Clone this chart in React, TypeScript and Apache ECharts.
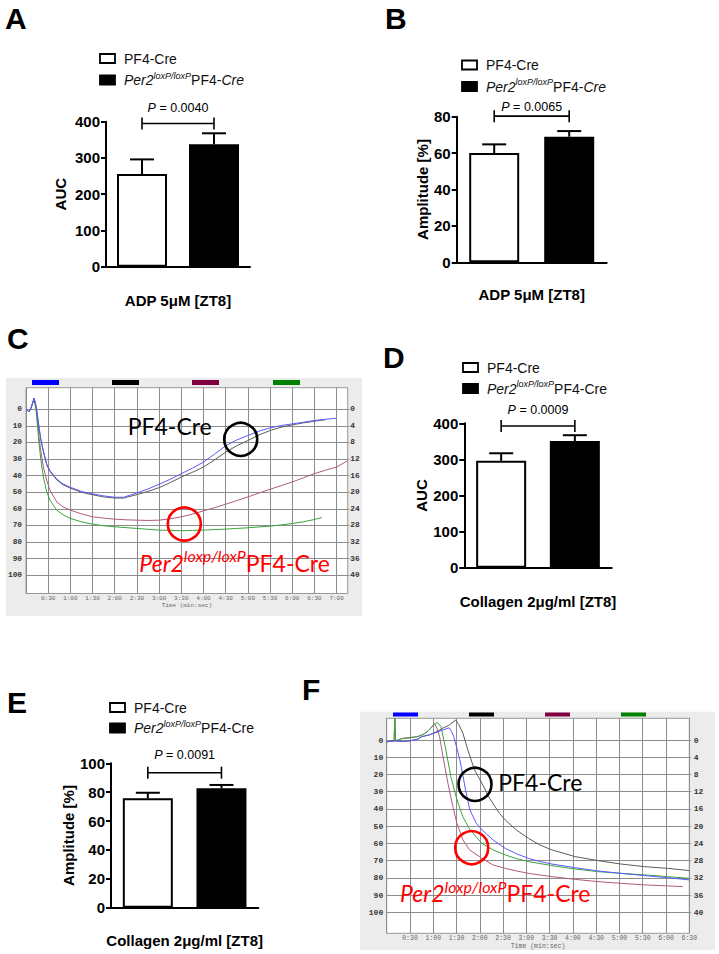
import React, { useEffect, useRef } from "react";
import * as echarts from "echarts";

// ---------------- DATA ----------------
const barCategories = ["PF4-Cre", "Per2 loxP/loxP PF4-Cre"];

const adpAucMean = [256, 338];
const adpAucErrTop = [296, 368];
const adpAmpMean = [60, 69];
const adpAmpErrTop = [64.8, 72.1];
const colAucMean = [296, 351];
const colAucErrTop = [317, 367];
const colAmpMean = [75.8, 82.7];
const colAmpErrTop = [79.6, 85];

const pValues = ["0.0040", "0.0065", "0.0009", "0.0091"];
const bracketLevels = [395, 80.3, 392.5, 93.5];

const leftTicks = [0, 10, 20, 30, 40, 50, 60, 70, 80, 90, 100];
const rightTicks = [0, 4, 8, 12, 16, 20, 24, 28, 32, 36, 40];
const cTimeTicks = [0, 30, 60, 90, 120, 150, 180, 210, 240, 270, 300, 330, 360, 390, 420];
const cTimeLabels = [30, 60, 90, 120, 150, 180, 210, 240, 270, 300, 330, 360, 390, 420];
const fTimeTicks = [0, 30, 60, 90, 120, 150, 180, 210, 240, 270, 300, 330, 360, 390];
const fTimeLabels = [30, 60, 90, 120, 150, 180, 210, 240, 270, 300, 330, 360, 390];

// Panel C traces (ADP): [time s, transmission %]
const adpBlue = [[0,0],[4,1.5],[7,-1],[11,-6.6],[14,-1],[17.6,11],[20,18],[23.5,25],[28,33],[32.5,37],[41.5,42],[50,45],[60,47],[75,49.5],[90,51],[105,52.2],[120,53],[132,53],[150,50.4],[165,48],[180,45.2],[195,42.2],[210,38.8],[225,35.5],[240,31.8],[255,27],[270,22],[285,18.5],[300,15.8],[315,13.2],[330,11.2],[345,9.8],[360,8.8],[375,7.8],[390,6.8],[405,6],[420,5.4]];
const adpBlack = [[0,0],[4,1.5],[7,-1],[11,-6.6],[14,-1],[17.6,11],[20,18],[23.5,25.5],[28,33.5],[32.5,37.5],[41.5,42.5],[50,45.5],[60,47.5],[75,50],[90,51.5],[105,52.8],[120,53.5],[132,53.5],[150,51.4],[165,49.5],[180,47.2],[195,44.2],[210,40.8],[225,38],[240,34.8],[255,30.5],[270,25.8],[285,22],[300,18.8],[315,15.5],[330,12.8],[345,10.8],[360,9.4],[375,8.2],[390,7.2],[405,6.3]];
const adpMaroon = [[0,0],[4,1.5],[7,-1],[11,-6.6],[14,0],[17.6,16.8],[20,25],[23.5,34.8],[28,42.8],[32.5,48.8],[41.5,55.8],[50,58.8],[60,60.8],[75,63],[90,64.8],[105,65.6],[120,66.2],[135,66.6],[150,66.8],[165,67],[180,66.8],[195,66],[210,64.8],[225,63.2],[240,61.2],[255,59.3],[270,57.2],[285,55],[300,52.8],[315,50.5],[330,48.2],[345,46],[360,43.8],[375,41.3],[390,38.8],[405,36.7],[420,34.8],[435,31]];
const adpGreen = [[0,0],[4,1.5],[7,-1],[11,-6.6],[14,2],[17.6,20.8],[20,30],[23.5,40.8],[28,49.8],[32.5,54.8],[41.5,60.8],[50,63.5],[60,65.8],[75,67.8],[90,69.2],[105,70.2],[120,70.8],[135,71.3],[150,71.8],[165,72.3],[180,72.8],[195,73],[210,73.2],[225,73],[240,72.8],[255,72.5],[270,72.2],[285,71.8],[300,71.4],[315,70.9],[330,70.4],[345,69.7],[360,68.8],[375,67.8],[390,66.4],[400,65.2]];

// Panel F traces (collagen)
const colBlue = [[0,1],[10,0.5],[20,0.8],[30,0.5],[40,-0.5],[45,-1.9],[55,-3],[65,-4.5],[72,-5.8],[80.6,-7.1],[83.5,-5],[86.5,-1.9],[90,4],[94.3,11.6],[98,20],[101.6,29],[107.2,40.6],[115.7,48.4],[122.9,52.2],[137,58],[152.8,62.9],[167,66],[182.8,68.7],[197,70.5],[212.9,72],[242.9,74.1],[272,76],[302,77.4],[332,78.7],[362,79.9],[390,81.2]];
const colBlack = [[0,1],[10,0.5],[20,0.8],[30,0.5],[40,-0.5],[45,-1.9],[55,-3],[65,-5],[72,-6.8],[80,-8.5],[88.8,-11.6],[93,-9],[98.2,-3.9],[104.6,5.8],[113.2,17.4],[122.7,25.1],[132.6,33.8],[145.4,42.6],[152.8,46.4],[167,52.2],[182.8,57.1],[197,60.8],[212.9,63.8],[242.9,67.7],[272,70],[302,72],[332,73.5],[362,74.5],[390,75.8]];
const colMaroon = [[0,1],[9.5,0.5],[10.5,-12.6],[11.5,0.5],[20,-1],[30,-1.5],[40,-2],[47,-3.2],[53,-5],[57,-7],[61.8,-9.5],[65,-6.5],[68.2,-1.9],[73.3,11.6],[78.9,25.1],[85.3,38.7],[90.5,48.4],[98.2,58],[106.8,63.8],[122.7,68.7],[136.9,72.5],[152.8,74.5],[167,76],[182.8,77.4],[212.9,79.3],[242.9,80.9],[272.1,82.2],[302.1,83.2],[332.2,84.1],[362.2,84.7],[381.5,85.1]];
const colGreen = [[0,1],[9.5,0.5],[10.5,-12.6],[11.5,0.5],[20,-0.8],[30,-1.2],[40,-2],[48,-3.5],[55,-6],[60,-8.5],[65.2,-10.3],[70,-7.7],[76.3,5.8],[82.7,21.3],[90,33.8],[98,44.5],[107.5,52.2],[122.7,60],[137,63.8],[152.8,66.7],[167,68.8],[182.8,70.6],[212.9,72.9],[242.9,74.9],[272,76.4],[302,77.4],[332,78.3],[362,79.3],[390,80.3]];

// ---------------- STYLE ----------------
const SANS = "'Liberation Sans', Arial, Helvetica, sans-serif";
const MONO = "'Liberation Mono', 'DejaVu Sans Mono', monospace";
const CAL = "Lato, 'Noto Sans', sans-serif";

function fmtTime(v: number) {
  const m = Math.floor(v / 60);
  const s = Math.round(v % 60);
  return m + ":" + (s < 10 ? "0" + s : "" + s);
}

function barXAxis(gi: number, name: string, gap: number) {
  return {
    type: "category", gridIndex: gi, data: barCategories,
    axisLine: { show: true, lineStyle: { color: "#000", width: 2 } },
    axisTick: { show: false }, axisLabel: { show: false }, splitLine: { show: false },
    name, nameLocation: "middle", nameGap: gap,
    nameTextStyle: { fontFamily: SANS, fontWeight: "bold", fontSize: 15, color: "#000" },
  };
}
function barYAxis(gi: number, max: number, interval: number, name: string, gap: number) {
  return {
    type: "value", gridIndex: gi, min: 0, max, interval,
    axisLine: { show: true, lineStyle: { color: "#000", width: 2 } },
    axisTick: { show: true, length: 5, lineStyle: { color: "#000", width: 2 } },
    axisLabel: { fontFamily: SANS, fontWeight: "bold", fontSize: 15, color: "#000", margin: 6 },
    splitLine: { show: false },
    name, nameLocation: "middle", nameGap: gap, nameRotate: 90,
    nameTextStyle: { fontFamily: SANS, fontWeight: "bold", fontSize: 15, color: "#000" },
  };
}
function barSeries(xi: number, yi: number, means: number[], tops: number[], bracket: number, p: string, pOffset: number) {
  return [
    {
      type: "bar", xAxisIndex: xi, yAxisIndex: yi, barWidth: 50, silent: true, z: 2,
      data: means.map((v, i) => ({
        value: v,
        itemStyle: i === 0
          ? { color: "#fff", borderColor: "#000", borderWidth: 2 }
          : { color: "#000", borderColor: "#000", borderWidth: 2 },
      })),
    },
    {
      type: "custom", xAxisIndex: xi, yAxisIndex: yi, clip: false, silent: true, z: 3,
      data: means.map((m, i) => [i, m, tops[i]]),
      renderItem: (params: any, api: any) => {
        const x = api.value(0);
        const p0 = api.coord([x, api.value(1)]);
        const p1 = api.coord([x, api.value(2)]);
        const st = { stroke: "#000", lineWidth: 2 };
        return {
          type: "group",
          children: [
            { type: "line", shape: { x1: p0[0], y1: p0[1], x2: p1[0], y2: p1[1] }, style: st },
            { type: "line", shape: { x1: p1[0] - 12, y1: p1[1], x2: p1[0] + 12, y2: p1[1] }, style: st },
          ],
        };
      },
    },
    {
      type: "custom", xAxisIndex: xi, yAxisIndex: yi, clip: false, silent: true, z: 3,
      data: [[0, 1, bracket]],
      renderItem: (params: any, api: any) => {
        const lv = api.value(2);
        const a = api.coord([api.value(0), lv]);
        const b = api.coord([api.value(1), lv]);
        const st = { stroke: "#000", lineWidth: 1.6 };
        return {
          type: "group",
          children: [
            { type: "line", shape: { x1: a[0], y1: a[1], x2: b[0], y2: b[1] }, style: st },
            { type: "line", shape: { x1: a[0], y1: a[1] - 6, x2: a[0], y2: a[1] + 6 }, style: st },
            { type: "line", shape: { x1: b[0], y1: b[1] - 6, x2: b[0], y2: b[1] + 6 }, style: st },
            {
              type: "text", x: (a[0] + b[0]) / 2, y: a[1] - pOffset,
              style: {
                text: "{i|P}{n| = " + p + "}",
                align: "center", verticalAlign: "middle",
                textAlign: "center", textVerticalAlign: "middle",
                fill: "#000",
                rich: {
                  i: { fontFamily: SANS, fontSize: 12.5, fontStyle: "italic", fill: "#000" },
                  n: { fontFamily: SANS, fontSize: 12.5, fill: "#000" },
                },
              },
            },
          ],
        };
      },
    },
  ];
}

function traceX(gi: number, max: number, ticks: number[], labels: number[], fs: number, gap: number) {
  return {
    type: "value", gridIndex: gi, min: 0, max,
    axisLine: { show: false },
    axisTick: { show: false, customValues: ticks },
    axisLabel: { customValues: labels, formatter: fmtTime, fontFamily: MONO, fontSize: fs, color: "#666", margin: 2 },
    splitLine: { show: true, lineStyle: { color: "#8c8c8c", width: 1 } },
    name: "Time (min:sec)", nameLocation: "middle", nameGap: gap,
    nameTextStyle: { fontFamily: MONO, fontSize: fs, color: "#666" },
  };
}
function traceYLeft(gi: number, min: number, max: number, fs: number, margin: number) {
  return {
    type: "value", gridIndex: gi, inverse: true, min, max, position: "left",
    axisLine: { show: false },
    axisTick: { show: false, customValues: leftTicks },
    axisLabel: { customValues: leftTicks, fontFamily: MONO, fontWeight: "bold", fontSize: fs, color: "#333", margin },
    splitLine: { show: true, lineStyle: { color: "#8c8c8c", width: 1 } },
  };
}
function traceYRight(gi: number, min: number, max: number, fs: number, margin: number) {
  return {
    type: "value", gridIndex: gi, inverse: true, min: min * 0.4, max: max * 0.4, position: "right",
    axisLine: { show: false },
    axisTick: { show: true, length: 2, customValues: rightTicks, lineStyle: { color: "#999" } },
    axisLabel: { customValues: rightTicks, fontFamily: MONO, fontWeight: "bold", fontSize: fs, color: "#333", margin },
    splitLine: { show: false },
  };
}
function trace(xi: number, yi: number, data: number[][], color: string) {
  return {
    type: "line", xAxisIndex: xi, yAxisIndex: yi, data, showSymbol: false, symbol: "none",
    silent: true, z: 3, lineStyle: { color, width: 1 },
  };
}

const TR_BLUE = "#5a5aff";
const TR_BLACK = "#5c5c5c";
const TR_MAROON = "#b05a80";
const TR_GREEN = "#3aa53a";

function legend(x: number, y1: number, y2: number, italicCre: boolean) {
  const txt = italicCre ? "{it|Per2}{sup|loxP/loxP}{n|PF4-}{it|Cre}" : "{it|Per2}{sup|loxP/loxP}{n|PF4-Cre}";
  const rich = {
    it: { fontFamily: SANS, fontSize: 14, fontStyle: "italic", lineHeight: 18, fill: "#111" },
    n: { fontFamily: SANS, fontSize: 14, lineHeight: 18, fill: "#111" },
    sup: { fontFamily: SANS, fontSize: 9, fontStyle: "italic", lineHeight: 10, verticalAlign: "top", fill: "#111" },
  };
  return [
    { type: "rect", shape: { x, y: y1 - 4.5, width: 15, height: 9 }, style: { fill: "#fff", stroke: "#000", lineWidth: 1.8 }, z: 50 },
    { type: "rect", shape: { x, y: y2 - 4.5, width: 15, height: 9 }, style: { fill: "#000", stroke: "#000", lineWidth: 1.8 }, z: 50 },
    { type: "text", x: x + 24, y: y1, z: 50, style: { text: "PF4-Cre", fontFamily: SANS, fontSize: 14, fill: "#111", align: "left", verticalAlign: "middle", textAlign: "left", textVerticalAlign: "middle" } },
    { type: "text", x: x + 24, y: y2, z: 50, style: { text: txt, rich, fill: "#111", align: "left", verticalAlign: "middle", textAlign: "left", textVerticalAlign: "middle" } },
  ];
}

function letter(t: string, x: number, y: number) {
  return { type: "text", x, y, z: 50, style: { text: t, fontFamily: SANS, fontWeight: "bold", fontSize: 30, fill: "#000", align: "left", verticalAlign: "middle", textAlign: "left", textVerticalAlign: "middle" } };
}

function traceDecor(bg: number[], barY: number, barH: number, barXs: number[], barW: number,
  blackC: number[], redC: number[], blackT: number[], redT: number[]) {
  const cols = ["#0000ff", "#000000", "#800040", "#008000"];
  const els: any[] = [
    { type: "rect", shape: { x: bg[0], y: bg[1], width: bg[2], height: bg[3] }, style: { fill: "#ececec" }, z: -10 },
  ];
  barXs.forEach((bx, i) => els.push({ type: "rect", shape: { x: bx, y: barY, width: barW, height: barH }, style: { fill: cols[i] }, z: 50 }));
  els.push({ type: "circle", shape: { cx: blackC[0], cy: blackC[1], r: 16.5 }, style: { fill: "none", stroke: "#000", lineWidth: 2.6 }, z: 60 });
  els.push({ type: "circle", shape: { cx: redC[0], cy: redC[1], r: 16.5 }, style: { fill: "none", stroke: "#ff0000", lineWidth: 2.6 }, z: 60 });
  els.push({ type: "text", x: blackT[0], y: blackT[1], z: 60, style: { text: "PF4-Cre", fontFamily: CAL, fontSize: 23, fill: "#000", align: "left", verticalAlign: "middle", textAlign: "left", textVerticalAlign: "middle" } });
  els.push({
    type: "text", x: redT[0], y: redT[1], z: 60,
    style: {
      text: "{it|Per2}{sup|loxp/loxP}{n|PF4-Cre}", fill: "#ff0000",
      align: "left", verticalAlign: "middle", textAlign: "left", textVerticalAlign: "middle",
      rich: {
        it: { fontFamily: CAL, fontSize: 23, fontStyle: "italic", lineHeight: 30, fill: "#ff0000" },
        n: { fontFamily: CAL, fontSize: 23, lineHeight: 30, fill: "#ff0000" },
        sup: { fontFamily: CAL, fontSize: 16, fontStyle: "italic", lineHeight: 16, verticalAlign: "top", fill: "#ff0000" },
      },
    },
  });
  return els;
}

function buildOption() {
  const traceGrid = { show: true, backgroundColor: "#fff", borderColor: "#999", borderWidth: 1 };
  const cMin = -13, cMax = 111, fMin = -12.6, fMax = 112.2;
  return {
    animation: false,
    backgroundColor: "#fff",
    grid: [
      { left: 106, top: 121.7, width: 144, height: 145 },
      { left: 456.7, top: 116.7, width: 150, height: 145.6 },
      { left: 26, top: 387.7, width: 321.7, height: 205.8, ...traceGrid },
      { left: 464.3, top: 423.3, width: 147.4, height: 144.4 },
      { left: 111, top: 763.3, width: 147.3, height: 144.4 },
      { left: 386.7, top: 718.3, width: 302.6, height: 215, ...traceGrid },
    ],
    xAxis: [
      barXAxis(0, "ADP 5\u03bcM [ZT8]", 26),
      barXAxis(1, "ADP 5\u03bcM [ZT8]", 25),
      traceX(2, 435, cTimeTicks, cTimeLabels, 6, 8.5),
      barXAxis(3, "Collagen 2\u03bcg/ml [ZT8]", 26.5),
      barXAxis(4, "Collagen 2\u03bcg/ml [ZT8]", 25),
      traceX(5, 390, fTimeTicks, fTimeLabels, 6.5, 8),
    ],
    yAxis: [
      barYAxis(0, 400, 100, "AUC", 38),
      barYAxis(1, 80, 20, "Amplitude [%]", 24),
      traceYLeft(2, cMin, cMax, 7.8, 4),
      traceYRight(2, cMin, cMax, 7.8, 2.5),
      barYAxis(3, 400, 100, "AUC", 35.5),
      barYAxis(4, 100, 20, "Amplitude [%]", 33.5),
      traceYLeft(5, fMin, fMax, 8, 3.5),
      traceYRight(5, fMin, fMax, 8, 4.5),
    ],
    series: [
      ...barSeries(0, 0, adpAucMean, adpAucErrTop, bracketLevels[0], pValues[0], 16),
      ...barSeries(1, 1, adpAmpMean, adpAmpErrTop, bracketLevels[1], pValues[1], 8.7),
      ...barSeries(3, 4, colAucMean, colAucErrTop, bracketLevels[2], pValues[2], 16),
      ...barSeries(4, 5, colAmpMean, colAmpErrTop, bracketLevels[3], pValues[3], 17.7),
      trace(2, 2, adpMaroon, TR_MAROON),
      trace(2, 2, adpGreen, TR_GREEN),
      trace(2, 2, adpBlack, TR_BLACK),
      trace(2, 2, adpBlue, TR_BLUE),
      trace(5, 6, colMaroon, TR_MAROON),
      trace(5, 6, colGreen, TR_GREEN),
      trace(5, 6, colBlack, TR_BLACK),
      trace(5, 6, colBlue, TR_BLUE),
    ],
    graphic: {
      elements: [
        letter("A", 5, 18),
        letter("B", 385, 18.5),
        letter("C", 7, 338),
        letter("D", 383, 357),
        letter("E", 7, 702),
        letter("F", 302, 689),
        ...legend(100, 58.5, 80, true),
        ...legend(462, 65, 86.5, true),
        ...legend(463, 367.5, 388.5, false),
        ...legend(110, 707.5, 728, false),
        ...traceDecor([6, 378, 356, 238], 380, 5, [32, 112, 192, 273], 27,
          [240.7, 439.3], [184.3, 524], [127.7, 426], [139.3, 562.7]),
        ...traceDecor([360, 711.7, 355, 238.3], 712.5, 4, [393, 469, 545, 621], 25,
          [475, 784.3], [471.7, 847.7], [498.3, 781.7], [400, 893.4]),
      ],
    },
  };
}

export default function App() {
  const ref = useRef<HTMLDivElement>(null);
  useEffect(() => {
    const chart = echarts.init(ref.current as HTMLDivElement, null, { renderer: "svg" });
    chart.setOption(buildOption() as any);
    return () => chart.dispose();
  }, []);
  return (
    <div
      ref={ref}
      style={{ position: "absolute", left: 0, top: 0, width: 719, height: 954, background: "#fff" }}
    />
  );
}
